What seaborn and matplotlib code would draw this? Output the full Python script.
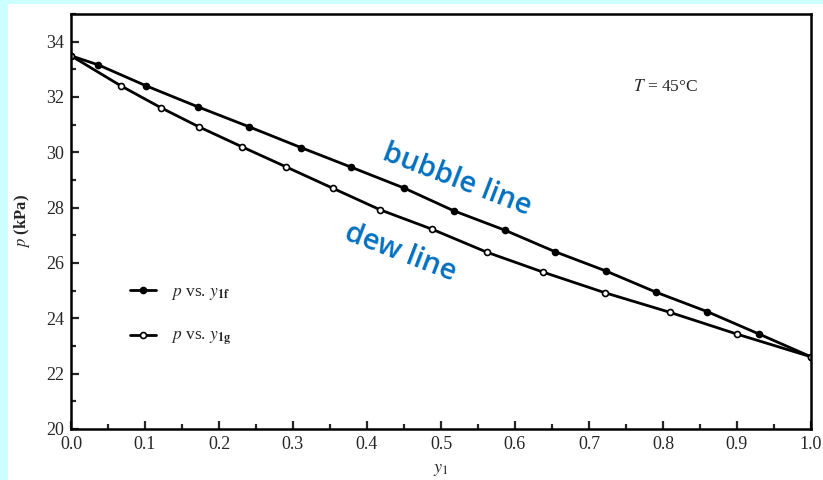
import matplotlib
matplotlib.use("Agg")
import matplotlib.pyplot as plt
from matplotlib.patches import Rectangle
from matplotlib.ticker import MultipleLocator
import seaborn as sns
import pandas as pd

# bubble line: p vs. y1f (filled circles)
y1f = [0.0, 0.037, 0.101, 0.171, 0.241, 0.311, 0.378, 0.450, 0.517,
       0.586, 0.654, 0.723, 0.791, 0.860, 0.930, 1.0]
p_bubble = [33.49, 33.16, 32.41, 31.65, 30.92, 30.17, 29.47, 28.71, 27.89,
            27.19, 26.41, 25.71, 24.94, 24.24, 23.43, 22.61]

# dew line: p vs. y1g (open circles)
y1g = [0.0, 0.067, 0.121, 0.173, 0.231, 0.291, 0.354, 0.418, 0.488,
       0.562, 0.638, 0.721, 0.809, 0.900, 1.0]
p_dew = [33.49, 32.41, 31.62, 30.92, 30.20, 29.47, 28.70, 27.92, 27.22,
         26.39, 25.67, 24.93, 24.22, 23.43, 22.61]

df_f = pd.DataFrame({"y1": y1f, "p": p_bubble})
df_g = pd.DataFrame({"y1": y1g, "p": p_dew})

sns.set_style("ticks")
plt.rcParams["font.family"] = ["Liberation Serif", "DejaVu Serif"]
plt.rcParams["mathtext.fontset"] = "stix"

fig = plt.figure(figsize=(8.23, 4.8), dpi=100)
fig.patch.set_facecolor("#CCFFFF")
fig.patches.append(Rectangle((8 / 823, 0), 1, 476 / 480, transform=fig.transFigure,
                             facecolor="white", edgecolor="none", zorder=-10))
ax = fig.add_axes([71 / 823, 1 - 429 / 480, 740 / 823, 415 / 480])
ax.set_facecolor("none")

sns.lineplot(data=df_f, x="y1", y="p", ax=ax, color="black", lw=2.0,
             marker="o", markersize=4.3, markerfacecolor="black",
             markeredgecolor="black", markeredgewidth=1.2,
             label=r"$p$ vs. $y_{\mathbf{1f}}$")
sns.lineplot(data=df_g, x="y1", y="p", ax=ax, color="black", lw=2.0,
             marker="o", markersize=4.3, markerfacecolor="white",
             markeredgecolor="black", markeredgewidth=1.2,
             label=r"$p$ vs. $y_{\mathbf{1g}}$")

ax.set_xlim(0, 1)
ax.set_ylim(20, 35)
ax.xaxis.set_major_locator(MultipleLocator(0.1))
ax.xaxis.set_minor_locator(MultipleLocator(0.05))
ax.yaxis.set_major_locator(MultipleLocator(2))
ax.yaxis.set_minor_locator(MultipleLocator(1))
ax.set_xticks(ax.get_xticks())
ax.set_xticklabels([f"{v:.1f}" for v in ax.get_xticks()])
ax.set_xlim(0, 1)
ax.tick_params(which="both", direction="in", width=1.6, labelsize=13,
               top=False, right=False, pad=5)
ax.tick_params(which="major", length=6)
ax.tick_params(which="minor", length=3.5)
for s in ax.spines.values():
    s.set_linewidth(1.8)
    s.set_color("black")

ax.set_xlabel(r"$y_1$", fontsize=13, labelpad=6)
ax.set_ylabel(r"$p$ (kPa)", fontsize=12, fontweight="bold", labelpad=10)

ax.legend(loc="center left", bbox_to_anchor=(0.058, 0.272), frameon=False,
          fontsize=12.5, handlelength=1.5, handletextpad=0.9, labelspacing=1.55)

ax.text(0.759, 0.824, r"$T$ = 45°C", transform=ax.transAxes, fontsize=12.5,
        ha="left", va="center")

ax.text(457, 480 - 180, "bubble line", transform=None, fontsize=21, color="#0070C0",
        family="Open Sans", fontweight="semibold", rotation=-21,
        ha="center", va="center", rotation_mode="anchor")
ax.text(400, 480 - 253, "dew line", transform=None, fontsize=21, color="#0070C0",
        family="Open Sans", fontweight="semibold", rotation=-21,
        ha="center", va="center", rotation_mode="anchor")

fig.savefig("out.png", dpi=100, facecolor=fig.get_facecolor())
